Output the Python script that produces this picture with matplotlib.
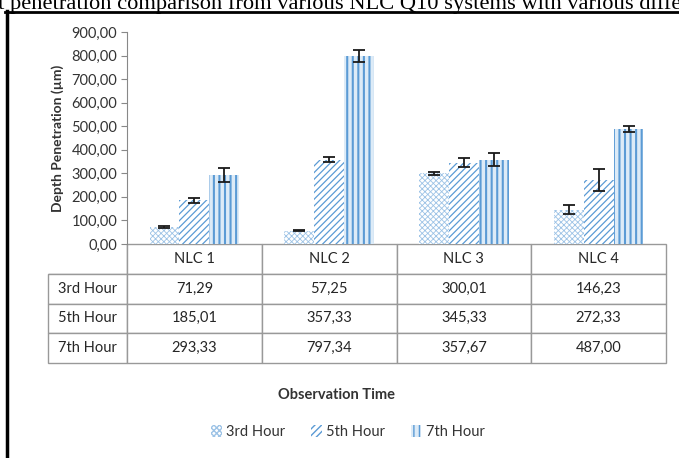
import matplotlib
matplotlib.use("Agg")
import matplotlib.pyplot as plt
from matplotlib.lines import Line2D
import numpy as np

categories = ["NLC 1", "NLC 2", "NLC 3", "NLC 4"]
series_names = ["3rd Hour", "5th Hour", "7th Hour"]
hour3 = [71.29, 57.25, 300.01, 146.23]
hour5 = [185.01, 357.33, 345.33, 272.33]
hour7 = [293.33, 797.34, 357.67, 487.00]
err3 = [4, 2, 5, 20]
err5 = [12, 11, 18, 48]
err7 = [28, 25, 28, 13]
yticks = [0, 100, 200, 300, 400, 500, 600, 700, 800, 900]

W, H = 679, 458
plt.rcParams['font.family'] = ['Lato', 'DejaVu Sans']
fig = plt.figure(figsize=(W / 100, H / 100), dpi=100)
ax = fig.add_axes([127 / W, 1 - 244 / H, 539 / W, 212 / H])

x = np.arange(len(categories))
bw = 0.222
styles = [
    dict(hatch='xxxxxx', facecolor='white', edgecolor='#9DC3E6', hlw=0.6),
    dict(hatch='/////', facecolor='white', edgecolor='#5B9BD5', hlw=0.9),
    dict(hatch='|||', facecolor='#DDEBF7', edgecolor='#5B9BD5', hlw=1.5),
]
data = [hour3, hour5, hour7]
errs = [err3, err5, err7]
handles = []
for i, (vals, e, st) in enumerate(zip(data, errs, styles)):
    with plt.rc_context({'hatch.linewidth': st['hlw']}):
        bars = ax.bar(x + (i - 1) * bw, vals, bw, facecolor=st['facecolor'],
                      edgecolor=st['edgecolor'], hatch=st['hatch'], linewidth=0,
                      label=series_names[i])
    handles.append(bars)
    ax.errorbar(x + (i - 1) * bw, vals, yerr=e, fmt='none', ecolor='#1a1a1a',
                elinewidth=1.3, capsize=4, capthick=1.3)

ax.set_xlim(-0.5, len(categories) - 0.5)
ax.set_ylim(0, 900)
ax.set_yticks(yticks)
ax.set_yticklabels([f"{v:.2f}".replace('.', ',') for v in yticks],
                   fontsize=10.5, color='#333333')
ax.set_xticks([])
for s in ['top', 'right', 'bottom']:
    ax.spines[s].set_visible(False)
ax.spines['left'].set_color('#888888')
ax.tick_params(axis='y', length=4, color='#888888', pad=3)
ax.set_ylabel("Depth Penetration (µm)", fontsize=10, fontweight='bold',
              color='#333333', labelpad=5)

# data table under the plot
cell_text = [[name] + [f"{v:.2f}".replace('.', ',') for v in vals]
             for name, vals in zip(series_names, data)]
tbl = ax.table(cellText=cell_text, colLabels=[''] + categories,
               colWidths=[79] + [134.75] * 4, cellLoc='center',
               bbox=[-79 / 539, -119 / 212, 618 / 539, 119 / 212])
tbl.auto_set_font_size(False)
for (r, c), cell in tbl.get_celld().items():
    cell.set_edgecolor('#999999')
    cell.set_linewidth(1.0)
    cell.get_text().set_fontsize(10.5)
    cell.get_text().set_color('#262626')
    if r == 0 and c == 0:
        cell.visible_edges = 'BR'

fig.text(337 / W, 1 - 395 / H, "Observation Time", fontsize=10.5,
         fontweight='bold', color='#333333', ha='center', va='center')
fig.legend(handles=handles, loc='center', bbox_to_anchor=(348 / W, 1 - 432 / H),
           ncol=3, frameon=False, fontsize=10.5, handlelength=0.7,
           handleheight=0.9, handletextpad=0.3, columnspacing=1.8,
           labelcolor='#333333')

# clipped caption and page frame of the screenshot
fig.text(-2 / W, 1 - 9 / H,
         "t penetration comparison from various NLC Q10 systems with various diffe",
         fontsize=16.2, family='Liberation Serif', ha='left', va='baseline')
fig.add_artist(Line2D([5 / W, 1], [1 - 12 / H, 1 - 12 / H], color='black',
                      lw=2, transform=fig.transFigure))
fig.add_artist(Line2D([7 / W, 7 / W], [0, 1 - 11 / H], color='black',
                      lw=2.5, transform=fig.transFigure))

fig.savefig("out.png", dpi=100)
